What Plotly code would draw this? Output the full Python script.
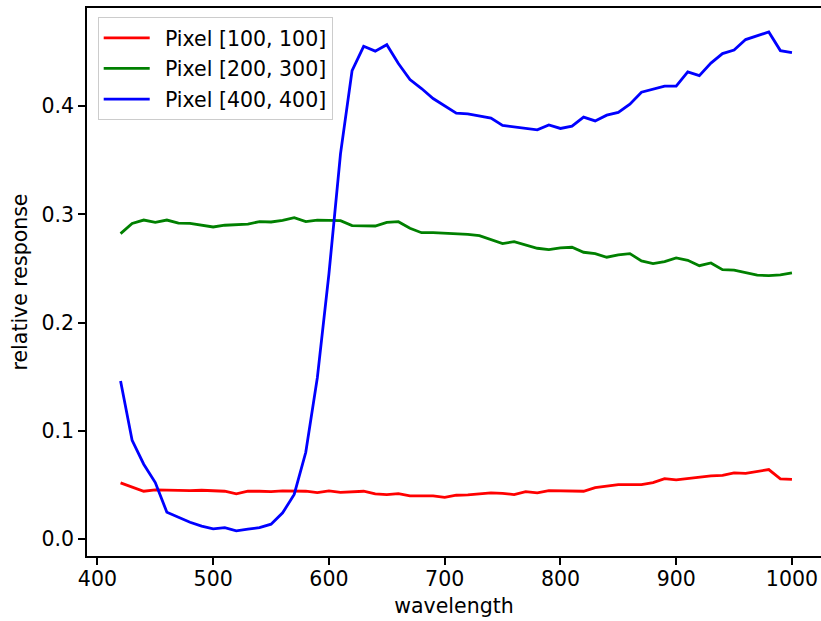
import plotly.graph_objects as go

wavelength = list(range(420, 1001, 10))

series_names = ["Pixel [100, 100]", "Pixel [200, 300]", "Pixel [400, 400]"]
series_colors = ["#ff0000", "#008000", "#0000ff"]

pixel_100_100 = [
    0.0517, 0.0480, 0.0440, 0.0452, 0.0449, 0.0446, 0.0446, 0.0449, 0.0446, 0.0440,
    0.0415, 0.0440, 0.0440, 0.0437, 0.0443, 0.0443, 0.0440, 0.0428, 0.0443, 0.0430,
    0.0434, 0.0440, 0.0415, 0.0409, 0.0418, 0.0397, 0.0397, 0.0397, 0.0384, 0.0403,
    0.0406, 0.0415, 0.0425, 0.0421, 0.0409, 0.0437, 0.0425, 0.0446, 0.0446, 0.0443,
    0.0440, 0.0474, 0.0489, 0.0501, 0.0501, 0.0501, 0.0520, 0.0557, 0.0545, 0.0557,
    0.0575, 0.0582, 0.0587, 0.0609, 0.0606, 0.0624, 0.0640, 0.0554, 0.0550,
]

pixel_200_300 = [
    0.2822, 0.2917, 0.2948, 0.2927, 0.2948, 0.2920, 0.2917, 0.2900, 0.2884, 0.2900,
    0.2908, 0.2911, 0.2933, 0.2930, 0.2945, 0.2970, 0.2933, 0.2948, 0.2945, 0.2942,
    0.2896, 0.2896, 0.2893, 0.2927, 0.2933, 0.2872, 0.2831, 0.2831, 0.2825, 0.2822,
    0.2816, 0.2803, 0.2770, 0.2730, 0.2748, 0.2717, 0.2687, 0.2674, 0.2690, 0.2696,
    0.2650, 0.2637, 0.2604, 0.2625, 0.2637, 0.2570, 0.2545, 0.2563, 0.2597, 0.2576,
    0.2526, 0.2551, 0.2489, 0.2484, 0.2462, 0.2438, 0.2434, 0.2440, 0.2459,
]

pixel_400_400 = [
    0.1460, 0.0910, 0.0690, 0.0520, 0.0246, 0.0200, 0.0153, 0.0117, 0.0092, 0.0104,
    0.0074, 0.0089, 0.0104, 0.0135, 0.0240, 0.0410, 0.0800, 0.1490, 0.2450, 0.3560,
    0.4330, 0.4555, 0.4510, 0.4570, 0.4395, 0.4247, 0.4164, 0.4072, 0.4001, 0.3936,
    0.3930, 0.3909, 0.3890, 0.3823, 0.3810, 0.3791, 0.3782, 0.3828, 0.3795, 0.3816,
    0.3900, 0.3865, 0.3918, 0.3943, 0.4019, 0.4130, 0.4158, 0.4186, 0.4186, 0.4318,
    0.4284, 0.4400, 0.4487, 0.4520, 0.4617, 0.4650, 0.4687, 0.4515, 0.4497,
]

x_tick_values = [400, 500, 600, 700, 800, 900, 1000]
y_tick_values = [0.0, 0.1, 0.2, 0.3, 0.4]

x_label = "wavelength"
y_label = "relative response"

FONT = "DejaVu Sans"
FS = 20.5

fig = go.Figure()
for i, (name, color, values) in enumerate(zip(series_names, series_colors,
                                              [pixel_100_100, pixel_200_300, pixel_400_400])):
    fig.add_trace(go.Scatter(
        x=wavelength, y=values, mode="lines",
        name="\u2002" + name, legendgroup="g%d" % i,
        line=dict(color=color, width=2.8),
    ))

axis_common = dict(
    showgrid=False, zeroline=False, automargin=False,
    showline=True, linecolor="#000000", linewidth=1.6,
    ticks="outside", ticklen=7, tickwidth=1.6, tickcolor="#000000",
    tickfont=dict(family=FONT, size=FS, color="#000000"),
)

W, H = 821, 621
ML, MT, MB = 87, 7.5, 64.5
plot_w = W - ML
plot_h = H - MT - MB

fig.update_layout(
    width=W, height=H,
    margin=dict(l=ML, r=0, t=MT, b=MB, pad=0),
    paper_bgcolor="white", plot_bgcolor="white",
    font=dict(family=FONT, size=FS, color="#000000"),
    xaxis=dict(
        range=[391.0, 1025.1],
        tickvals=x_tick_values,
        mirror=True,
        ticklabelstandoff=-3,
        title=dict(text=x_label, font=dict(family=FONT, size=FS), standoff=8),
        **axis_common,
    ),
    yaxis=dict(
        range=[-0.0159, 0.4909],
        tickvals=y_tick_values,
        tickformat=".1f",
        title=dict(text=y_label, font=dict(family=FONT, size=FS), standoff=8),
        **axis_common,
    ),
    legend=dict(
        x=(97.7 - ML) / plot_w, y=1 - (16.5 - MT) / plot_h,
        xanchor="left", yanchor="top",
        bgcolor="rgba(255,255,255,0.8)", bordercolor="#cccccc", borderwidth=1,
        font=dict(family=FONT, size=FS, color="#000000"),
        itemwidth=46, tracegroupgap=1,
    ),
    showlegend=True,
)

fig.write_html(
    "out.html",
    config={"displayModeBar": False},
    post_script="document.body.style.margin='0';",
)
